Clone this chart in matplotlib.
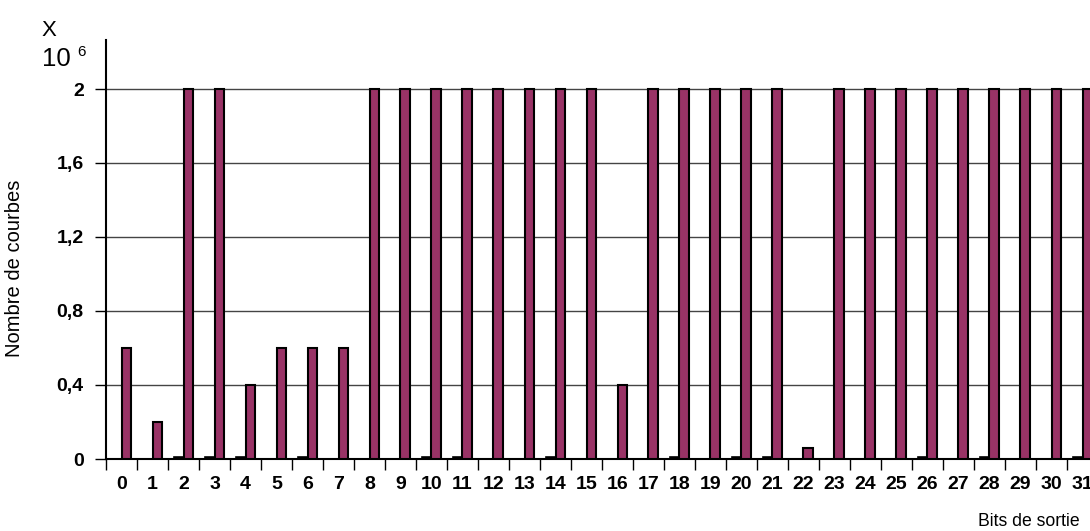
import numpy as np
import matplotlib
matplotlib.use("Agg")
import matplotlib.pyplot as plt
from matplotlib.ticker import FixedLocator

plt.rcParams["font.family"] = ["Liberation Sans", "DejaVu Sans"]

# output bits 0..31
bits = list(range(32))
# small series (millions of curves), almost zero
small = [0, 0, 0.01, 0.01, 0.01, 0, 0.01, 0, 0, 0, 0.01, 0.01, 0, 0, 0.01, 0,
         0, 0, 0.01, 0, 0.01, 0.01, 0, 0, 0, 0, 0.01, 0, 0.01, 0, 0, 0.01]
# main series (millions of curves)
counts = [0.6, 0.2, 2, 2, 0.4, 0.6, 0.6, 0.6, 2, 2, 2, 2, 2, 2, 2, 2,
          0.4, 2, 2, 2, 2, 2, 0.06, 2, 2, 2, 2, 2, 2, 2, 2, 2]
yticks = [0, 0.4, 0.8, 1.2, 1.6, 2]
ytick_labels = ["0", "0,4", "0,8", "1,2", "1,6", "2"]

W, H = 1090, 531
fig = plt.figure(figsize=(W / 100, H / 100), dpi=100)
ax = fig.add_axes([106 / W, (H - 459) / H, 1 - 106 / W, (459 - 40) / H])

x = np.arange(len(bits))
bw = 0.32
ax.bar(x - bw / 2, small, width=bw, color="black", edgecolor="black", linewidth=1.2, zorder=3)
ax.bar(x + bw / 2, counts, width=bw, color="#993366", edgecolor="black", linewidth=1.5, zorder=3)

step = 31.0
ax.set_xlim(-0.5, -0.5 + (W - 106) / step)
ax.set_ylim(0, (459 - 40) / 185.0)

ax.set_yticks(yticks)
ax.set_yticklabels(ytick_labels, fontsize=14, fontweight="bold")
ax.tick_params(axis="y", direction="out", length=8, width=1, pad=8)
ax.yaxis.grid(True, color="#444444", linewidth=1)
ax.set_axisbelow(True)

ax.set_xticks(x)
ax.set_xticklabels([str(b) for b in bits], fontsize=14, fontweight="bold")
ax.xaxis.set_minor_locator(FixedLocator(np.arange(-0.5, 32, 1)))
ax.tick_params(axis="x", which="major", length=0, pad=12)
ax.tick_params(axis="x", which="minor", direction="out", length=8, width=1)

for s in ["top", "right"]:
    ax.spines[s].set_visible(False)
ax.spines["left"].set_linewidth(1.5)
ax.spines["bottom"].set_linewidth(1.5)

fig.text(15 / W, 1 - 268 / H, "Nombre de courbes", rotation=90, fontsize=14.5,
         ha="center", va="center")
fig.text(1080 / W, 1 - 522 / H, "Bits de sortie", fontsize=12.7, ha="right", va="center")
fig.text(41 / W, 1 - 30 / H, "X", fontsize=16, ha="left", va="center")
fig.text(42 / W, 1 - 59 / H, "10", fontsize=18.5, ha="left", va="center")
fig.text(77 / W, 1 - 52 / H, "6", fontsize=11, ha="left", va="center")

fig.savefig("out.png", dpi=100)
